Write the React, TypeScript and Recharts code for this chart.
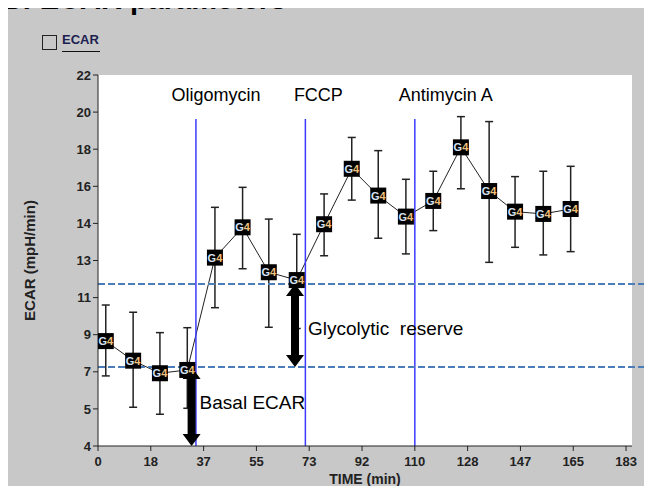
import React from 'react';
import { LineChart, Line, XAxis, YAxis, CartesianGrid, ErrorBar, ReferenceLine, Label } from 'recharts';

// ECAR trace (G4 group), time in min, ECAR in mpH/min
const times = [2.7, 12.2, 21.5, 31.0, 40.6, 50.2, 59.3, 69.0, 78.5, 88.1, 97.3, 106.9, 116.4, 126.0, 135.8, 144.8, 154.6, 164.1];
const ecar = [9.09, 8.14, 7.53, 7.69, 13.14, 14.61, 12.43, 12.05, 14.76, 17.45, 16.15, 15.13, 15.89, 18.49, 16.37, 15.37, 15.26, 15.5];
const ecarLow = [7.4, 5.88, 5.54, 5.83, 10.71, 12.6, 9.76, 9.7, 13.23, 15.93, 14.08, 13.32, 14.45, 16.48, 12.91, 13.64, 13.27, 13.43];
const ecarHigh = [10.84, 10.49, 9.5, 9.74, 15.58, 16.55, 15.01, 14.27, 16.23, 18.97, 18.33, 16.94, 17.33, 19.98, 19.74, 17.07, 17.33, 17.57];

const xTicks = [0, 18.33, 36.67, 55, 73.33, 91.67, 110, 128.33, 146.67, 165, 183.33];
const yTicks = [4, 5.8, 7.6, 9.4, 11.2, 13, 14.8, 16.6, 18.4, 20.2, 22];

const injectionTimes = [34, 72, 110];
const injectionNames = ['Oligomycin', 'FCCP', 'Antimycin A'];
const injectionTop = 19.87;

const basalLevel = 7.83;
const reserveLevel = 11.86;
const basalArrowTime = 32.5;
const reserveArrowTime = 68.4;

const data = times.map((t, i) => ({
  t,
  v: ecar[i],
  err: [ecar[i] - ecarLow[i], ecarHigh[i] - ecar[i]],
}));

const FONT = 'Arial, "Liberation Sans", sans-serif';
const labelShift = [20, 13, 31];

const G4Dot = (props: any) => {
  const { cx, cy, index } = props;
  if (cx == null || cy == null) return null;
  return (
    <g key={`dot-${index}`}>
      <rect x={cx - 8} y={cy - 8} width={16} height={16} fill="#000" />
      <text x={cx} y={cy + 4} textAnchor="middle" fontSize={11} fontWeight="bold" fontFamily={FONT}>
        <tspan fill="#d6e2f5">G</tspan>
        <tspan fill="#f2c07c">4</tspan>
      </text>
    </g>
  );
};

const DoubleArrow = (props: any) => {
  const { x1, y1, y2 } = props;
  const top = Math.min(y1, y2);
  const bot = Math.max(y1, y2);
  const hw = 9, sw = 4, hl = 12;
  const pts = [
    [x1, top], [x1 + hw, top + hl], [x1 + sw, top + hl], [x1 + sw, bot - hl], [x1 + hw, bot - hl],
    [x1, bot], [x1 - hw, bot - hl], [x1 - sw, bot - hl], [x1 - sw, top + hl], [x1 - hw, top + hl],
  ].map((p) => p.join(',')).join(' ');
  return <polygon points={pts} fill="#000" />;
};

const tickStyle = { fontSize: 13, fontWeight: 'bold', fill: '#222', fontFamily: FONT };

export default function App() {
  return (
    <div style={{ position: 'relative', width: 652, height: 494, margin: -8, background: '#fff', overflow: 'hidden', fontFamily: FONT }}>
      <div style={{ position: 'absolute', left: 4, top: 5, right: 0, bottom: 0, background: '#c8c8c8', borderTop: '2px solid #000', borderLeft: '2px solid #000' }} />
      <div style={{ position: 'absolute', left: 1, top: -15, fontSize: 29, lineHeight: '29px', fontWeight: 'bold', color: '#000', whiteSpace: 'nowrap', zIndex: 2 }}>
        B: ECAR parameters
      </div>
      <div style={{ position: 'absolute', left: 42, top: 35, width: 13, height: 13, border: '1.5px solid #222' }} />
      <div style={{ position: 'absolute', left: 62, top: 32, fontSize: 13, lineHeight: '15px', fontWeight: 'bold', color: '#1c2050', borderBottom: '1.5px solid #111', paddingBottom: 4, width: 38 }}>ECAR</div>
      <div style={{ position: 'absolute', left: 0, top: 0 }}>
        <LineChart width={652} height={494} data={data} margin={{ top: 75, right: 20, bottom: 8, left: 20 }}>
          <CartesianGrid horizontal={false} vertical={false} fill="#fff" />
          <XAxis
            type="number"
            dataKey="t"
            domain={[0, 185.4]}
            ticks={xTicks}
            tickFormatter={(v: number) => String(Math.round(v))}
            tick={tickStyle}
            tickSize={5}
            tickMargin={6}
            axisLine={{ stroke: '#222' }}
            tickLine={{ stroke: '#222' }}
            height={40}
            allowDataOverflow
          >
            <Label value="TIME (min)" position="insideBottom" offset={2} style={{ fontSize: 14, fontWeight: 'bold', fill: '#222', fontFamily: FONT }} />
          </XAxis>
          <YAxis
            type="number"
            domain={[4, 22]}
            ticks={yTicks}
            tickFormatter={(v: number) => String(Math.floor(v + 1e-9))}
            tick={tickStyle}
            tickSize={5}
            axisLine={{ stroke: '#222' }}
            tickLine={{ stroke: '#222' }}
            width={78}
            allowDataOverflow
          >
            <Label value="ECAR (mpH/min)" angle={-90} position="insideLeft" offset={10} style={{ textAnchor: 'middle', fontSize: 15, fontWeight: 'bold', fill: '#222', fontFamily: FONT }} />
          </YAxis>
          <Line type="linear" dataKey="v" stroke="#222" strokeWidth={1} dot={<G4Dot />} activeDot={false} isAnimationActive={false}>
            <ErrorBar dataKey="err" width={4} stroke="#222" strokeWidth={1.5} direction="y" />
          </Line>
          {injectionTimes.map((t, i) => (
            <ReferenceLine
              key={`inj-${i}`}
              segment={[{ x: t, y: injectionTop }, { x: t, y: 4 }]}
              stroke="#3a3aff"
              strokeWidth={1.5}
              label={(p: any) => (
                <text x={p.viewBox.x + labelShift[i]} y={p.viewBox.y - 18} textAnchor="middle" fontSize={18} fontFamily={FONT} fill="#000">
                  {injectionNames[i]}
                </text>
              )}
            />
          ))}
          {[reserveLevel, basalLevel].map((lvl, i) => (
            <ReferenceLine
              key={`lvl-${i}`}
              segment={[{ x: 0, y: lvl }, { x: 210, y: lvl }]}
              stroke="#4a7ebb"
              strokeWidth={2}
              strokeDasharray="7 3"
              ifOverflow="visible"
            />
          ))}
          <ReferenceLine
            segment={[{ x: basalArrowTime, y: basalLevel }, { x: basalArrowTime, y: 4 }]}
            shape={<DoubleArrow />}
          >
            <Label value="Basal ECAR" position="right" offset={8} dy={-4} style={{ fontSize: 19, fill: '#000', fontFamily: FONT }} />
          </ReferenceLine>
          <ReferenceLine
            segment={[{ x: reserveArrowTime, y: reserveLevel }, { x: reserveArrowTime, y: basalLevel }]}
            shape={<DoubleArrow />}
          >
            <Label value={'Glycolytic\u00A0\u00A0reserve'} position="right" offset={13} dy={3} style={{ fontSize: 19, fill: '#000', fontFamily: FONT }} />
          </ReferenceLine>
        </LineChart>
      </div>
    </div>
  );
}
